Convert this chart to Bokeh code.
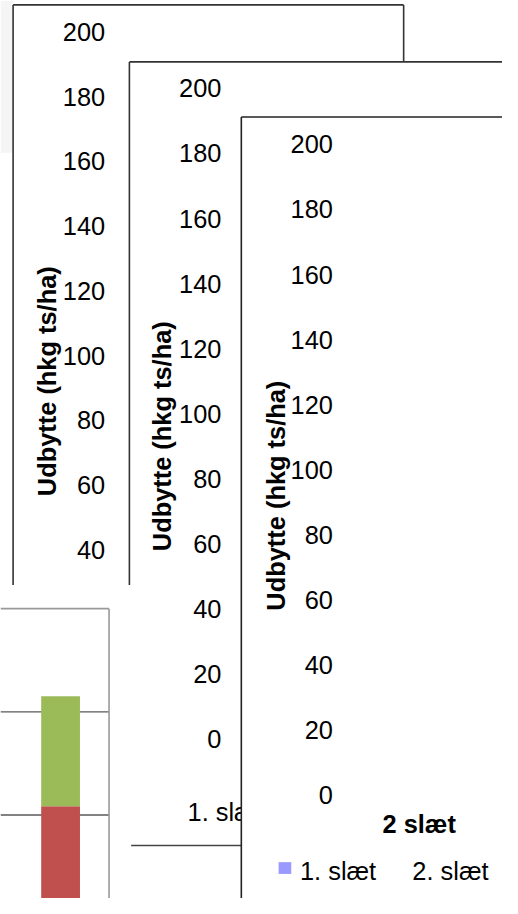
from bokeh.plotting import figure
from bokeh.models import Range1d
from bokeh.core.properties import value
from bokeh.embed import file_html
from bokeh.resources import INLINE

# ---------------- data ----------------
y_ticks = [0, 20, 40, 60, 80, 100, 120, 140, 160, 180, 200]
y_tick_labels = [str(t) for t in y_ticks]
y_title = "Udbytte (hkg ts/ha)"
categories = ["1. slæt", "2. slæt"]
x_title = "2 slæt"
series_names = ["1. slæt", "2. slæt"]
legend_colors = ["#9999FF", None]
# stacked bar in the lower-left chart (one category)
bar_cats = [0]
slaet1_values = [61.7]
slaet2_values = [21.3]
bar_colors = ["#C0504D", "#9BBB59"]
grid_values = [60, 80]

# ---------------- canvas ----------------
W, H = 502, 898
X0, X1, Y0, Y1 = 0, 518, 914, 0   # layout coordinates (reference pixels)
FONT = value("Liberation Sans")
FS = value("25.4px")

p = figure(width=W, height=H, x_range=Range1d(X0, X1), y_range=Range1d(Y0, Y1),
           output_backend="svg", toolbar_location=None, min_border=0,
           x_axis_location=None, y_axis_location=None)
p.grid.visible = False
p.outline_line_color = None
p.background_fill_color = "white"
p.border_fill_color = "white"


def yrange(zero_px, px_per_unit):
    return Range1d(start=(zero_px - Y0) / px_per_unit, end=(zero_px - Y1) / px_per_unit)


p.extra_y_ranges = {
    "p1": yrange(691.0, 659.0 / 200),
    "p2": yrange(751.5, 662.0 / 200),
    "p3": yrange(808.5, 662.0 / 200),
    "bl": yrange(1144.0, 5.25),
}
BAR_UNIT = 66.7
p.extra_x_ranges = {"bl": Range1d(start=(X0 - 62) / BAR_UNIT, end=(X1 - 62) / BAR_UNIT)}

BORDER = "#333333"


def ticks(xr, rng):
    p.text(x=[xr] * len(y_ticks), y=y_ticks, text=y_tick_labels, y_range_name=rng,
           text_align="right", text_baseline="middle", text_font=FONT,
           text_font_size=FS, text_color="black")


def ytitle(xc, yc):
    p.text(x=[xc], y=[yc], text=[y_title], angle=1.5707963, text_align="center",
           text_baseline="middle", text_font=FONT, text_font_size=FS,
           text_font_style="bold", text_color="black")


# light grey backdrop at far top-left
p.quad(left=[0], right=[13], top=[0], bottom=[155], fill_color="#F5F5F5", line_color=None)

# ---- panel 1 ----
p.quad(left=[13], right=[416], top=[4.5], bottom=[920], fill_color="white", line_color=None)
p.multi_line(xs=[[13, 13], [13, 416], [416, 416]], ys=[[920, 4.5], [4.5, 4.5], [4.5, 920]],
             line_color=BORDER, line_width=1.6)
ticks(108, "p1")
ytitle(47.5, 387.5)

# ---- panel 2 ----
p.quad(left=[133], right=[530], top=[62.5], bottom=[920], fill_color="white", line_color=None)
p.multi_line(xs=[[133, 133], [133, 530]], ys=[[920, 62.5], [62.5, 62.5]],
             line_color=BORDER, line_width=1.6)
ticks(228, "p2")
ytitle(167, 443.5)
p.text(x=[193], y=[826], text=[categories[0]], text_align="left", text_baseline="middle",
       text_font=FONT, text_font_size=FS, text_color="black")
p.segment(x0=[133], x1=[530], y0=[860], y1=[860], line_color="#444444", line_width=1.5)

# white area below panels on the left
p.quad(left=[0], right=[134.8], top=[595], bottom=[920], fill_color="white", line_color=None)

# ---- lower-left chart with stacked bar ----
p.quad(left=[0], right=[112], top=[619], bottom=[920], fill_color="white", line_color=None)
for g in grid_values:
    p.segment(x0=[0], x1=[112], y0=[g], y1=[g], y_range_name="bl",
              line_color="#595959", line_width=1.3)
bottoms2 = [a for a in slaet1_values]
tops2 = [a + b for a, b in zip(slaet1_values, slaet2_values)]
p.vbar(x=bar_cats, bottom=[0] * len(bar_cats), top=slaet1_values, width=0.6,
       x_range_name="bl", y_range_name="bl", fill_color=bar_colors[0], line_color=None)
p.vbar(x=bar_cats, bottom=bottoms2, top=tops2, width=0.6,
       x_range_name="bl", y_range_name="bl", fill_color=bar_colors[1], line_color=None)
p.multi_line(xs=[[0, 112], [112, 112]], ys=[[619, 619], [619, 920]],
             line_color="#999999", line_width=1.6)

# ---- panel 3 ----
p.quad(left=[248.5], right=[530], top=[118.5], bottom=[920], fill_color="white", line_color=None)
p.multi_line(xs=[[248.5, 248.5], [248.5, 530]], ys=[[920, 118.5], [118.5, 118.5]],
             line_color="#222222", line_width=1.6)
ticks(343, "p3")
ytitle(284, 504)
p.text(x=[432], y=[838], text=[x_title], text_align="center", text_baseline="middle",
       text_font=FONT, text_font_size=FS, text_font_style="bold", text_color="black")
# legend
p.quad(left=[287], right=[300], top=[877], bottom=[889], fill_color=legend_colors[0], line_color=None)
p.text(x=[309, 425], y=[886, 886], text=series_names, text_align="left", text_baseline="middle",
       text_font=FONT, text_font_size=FS, text_color="black")

open("out.html", "w").write(file_html(p, INLINE))
